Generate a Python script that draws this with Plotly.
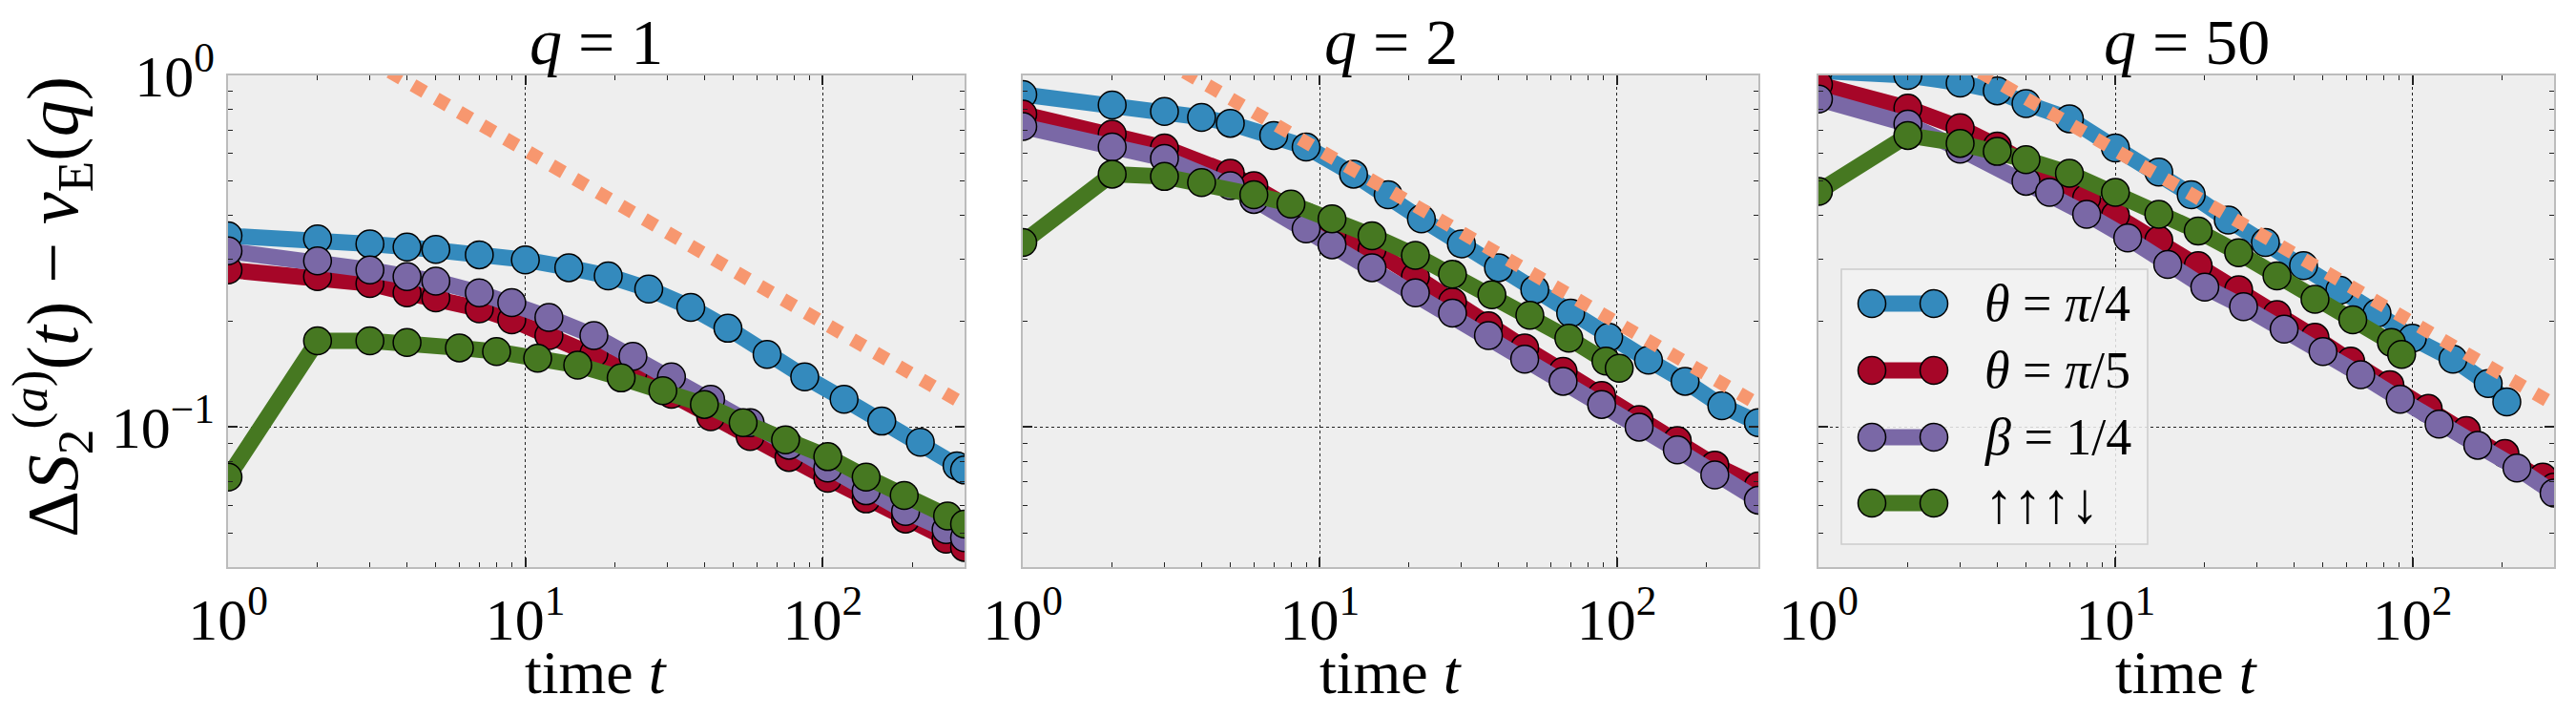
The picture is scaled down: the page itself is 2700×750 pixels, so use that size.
import numpy as np
import plotly.graph_objects as go

# ---------------- data ----------------
# panel q = 1
t_q1_pi4 = [1, 2, 3, 4, 5, 7, 10, 14, 19, 26, 36, 48, 65, 87, 118, 158, 213, 283, 300]
y_q1_pi4 = [0.350, 0.343, 0.332, 0.325, 0.320, 0.309, 0.299, 0.284, 0.269, 0.247, 0.219,
            0.191, 0.161, 0.139, 0.120, 0.104, 0.0906, 0.0776, 0.0755]
t_q1_pi5 = [1, 2, 3, 4, 5, 7, 9, 12, 17, 23, 31, 42, 57, 77, 104, 140, 190, 260, 300]
y_q1_pi5 = [0.280, 0.268, 0.256, 0.241, 0.233, 0.217, 0.202, 0.182, 0.162, 0.143, 0.124,
            0.107, 0.094, 0.082, 0.0715, 0.0625, 0.0548, 0.0480, 0.0455]
t_q1_beta = [1, 2, 3, 4, 5, 7, 9, 12, 17, 23, 31, 42, 57, 77, 104, 140, 190, 260, 300]
y_q1_beta = [0.317, 0.297, 0.280, 0.268, 0.260, 0.241, 0.226, 0.205, 0.182, 0.159, 0.139,
             0.120, 0.103, 0.0888, 0.0765, 0.0659, 0.0576, 0.0511, 0.0485]
t_q1_neel = [1, 2, 3, 4, 6, 8, 11, 15, 21, 29, 40, 54, 75, 104, 140, 188, 263, 300]
y_q1_neel = [0.0721, 0.176, 0.176, 0.174, 0.168, 0.164, 0.157, 0.150, 0.138, 0.127, 0.116,
             0.103, 0.092, 0.0824, 0.0721, 0.0639, 0.0559, 0.0530]

# panel q = 2
t_q2_pi4 = [1, 2, 3, 4, 5, 7, 9, 13, 17, 22, 30, 40, 53, 70, 94, 128, 170, 226, 300]
y_q2_pi4 = [0.883, 0.824, 0.790, 0.760, 0.731, 0.675, 0.626, 0.524, 0.458, 0.391, 0.332,
            0.284, 0.246, 0.211, 0.180, 0.155, 0.135, 0.115, 0.103]
t_q2_pi5 = [1, 2, 3, 5, 6, 9, 11, 15, 21, 28, 37, 49, 66, 89, 119, 160, 214, 300]
y_q2_pi5 = [0.776, 0.681, 0.622, 0.527, 0.486, 0.395, 0.355, 0.320, 0.268, 0.227, 0.194,
            0.168, 0.144, 0.123, 0.105, 0.0915, 0.078, 0.068]
t_q2_beta = [1, 2, 3, 5, 6, 9, 11, 15, 21, 28, 37, 49, 66, 89, 119, 160, 214, 300]
y_q2_beta = [0.716, 0.626, 0.581, 0.486, 0.444, 0.366, 0.330, 0.284, 0.241, 0.211, 0.182,
             0.156, 0.135, 0.116, 0.100, 0.0861, 0.0731, 0.062]
t_q2_neel = [1, 2, 3, 4, 6, 8, 11, 15, 21, 28, 38, 51, 69, 92, 102]
y_q2_neel = [0.335, 0.524, 0.516, 0.496, 0.458, 0.431, 0.391, 0.350, 0.308, 0.272, 0.238,
             0.208, 0.179, 0.154, 0.147]

# panel q = 50
t_q50_pi4 = [1, 2, 3, 4, 5, 7, 10, 14, 18, 24, 32, 43, 57, 76, 100, 137, 180, 208]
y_q50_pi4 = [1.03, 1.00, 0.951, 0.904, 0.832, 0.753, 0.622, 0.531, 0.458, 0.388, 0.335,
             0.288, 0.245, 0.211, 0.179, 0.156, 0.133, 0.118]
t_q50_pi5 = [1, 2, 3, 4, 8, 10, 14, 19, 26, 35, 47, 62, 84, 113, 152, 205, 275, 300]
y_q50_pi5 = [0.942, 0.807, 0.710, 0.630, 0.448, 0.400, 0.340, 0.288, 0.246, 0.209, 0.180,
             0.154, 0.132, 0.113, 0.0977, 0.0841, 0.0721, 0.0675]
t_q50_beta = [1, 2, 3, 5, 6, 8, 11, 15, 20, 27, 37, 50, 67, 91, 123, 166, 225, 300]
y_q50_beta = [0.857, 0.727, 0.617, 0.500, 0.465, 0.403, 0.345, 0.290, 0.250, 0.220, 0.190,
              0.164, 0.141, 0.120, 0.102, 0.0888, 0.0765, 0.0649]
t_q50_neel = [1, 2, 3, 4, 5, 7, 10, 14, 19, 26, 35, 47, 63, 85, 92]
y_q50_neel = [0.468, 0.675, 0.641, 0.608, 0.576, 0.527, 0.465, 0.403, 0.361, 0.313, 0.269,
              0.231, 0.202, 0.174, 0.161]

# dotted reference power law (same in every panel)
ref_t = [1, 300]
ref_y = [1.89, 0.116]

panel_titles = ["<i>q</i> = 1", "<i>q</i> = 2", "<i>q</i> = 50"]
series_names = ["<i>θ</i> = <i>π</i>/4", "<i>θ</i> = <i>π</i>/5", "<i>β</i> = 1/4", "↑↑↑↓"]
series_colors = ["#348ABD", "#A60628", "#7A68A6", "#467821"]
ref_color = "#F7976F"

panels = [
    [(t_q1_pi4, y_q1_pi4), (t_q1_pi5, y_q1_pi5), (t_q1_beta, y_q1_beta), (t_q1_neel, y_q1_neel)],
    [(t_q2_pi4, y_q2_pi4), (t_q2_pi5, y_q2_pi5), (t_q2_beta, y_q2_beta), (t_q2_neel, y_q2_neel)],
    [(t_q50_pi4, y_q50_pi4), (t_q50_pi5, y_q50_pi5), (t_q50_beta, y_q50_beta), (t_q50_neel, y_q50_neel)],
]

x_tickvals = [1, 10, 100]
x_ticktext = ["10<sup>0</sup>", "10<sup>1</sup>", "10<sup>2</sup>"]
y_tickvals = [0.1, 1]
y_ticktext = ["10<sup>−1</sup>", "10<sup>0</sup>"]
x_minor = [2, 3, 4, 5, 6, 7, 8, 9, 20, 30, 40, 50, 60, 70, 80, 90, 200, 300]
y_minor = [0.04, 0.05, 0.06, 0.07, 0.08, 0.09, 0.2, 0.3, 0.4, 0.5, 0.6, 0.7, 0.8, 0.9]

# ---------------- layout geometry ----------------
W, H = 2700, 750
FONT = "Liberation Serif"
px_x = [(239, 1011), (1072, 1843), (1906, 2677)]
y_top, y_bot = 79, 594
ydom = [1 - y_bot / H, 1 - y_top / H]

fig = go.Figure()

LW = 17
MS = 29
for p, series in enumerate(panels):
    xa = "x" if p == 0 else f"x{p+1}"
    ya = "y" if p == 0 else f"y{p+1}"
    for s, (tt, yy) in enumerate(series):
        fig.add_trace(go.Scatter(
            x=tt, y=yy, mode="lines+markers", xaxis=xa, yaxis=ya,
            name=series_names[s], showlegend=False,
            line=dict(color=series_colors[s], width=LW),
            marker=dict(size=MS, color=series_colors[s], line=dict(color="black", width=1.5)),
        ))
    fig.add_trace(go.Scatter(
        x=ref_t, y=ref_y, mode="lines", xaxis=xa, yaxis=ya, showlegend=False,
        line=dict(color=ref_color, width=14, dash="dot"),
    ))

tickfont = dict(family=FONT, size=62, color="black")
common = dict(
    type="log", ticks="inside", ticklen=10, tickwidth=1.5, tickcolor="#222",
    mirror="allticks", showline=True, linecolor="#bcbcbc", linewidth=1.5,
    showgrid=True, gridcolor="#222", griddash="dot", gridwidth=1.3,
    zeroline=False, tickfont=tickfont, automargin=False,
)
layout = {}
for p in range(3):
    sx = "" if p == 0 else str(p + 1)
    x0, x1 = px_x[p]
    layout[f"xaxis{sx}"] = dict(
        common, domain=[x0 / W, x1 / W], anchor=f"y{sx}",
        range=[0, np.log10(300)], tickmode="array", tickvals=x_tickvals, ticktext=x_ticktext,
        minor=dict(ticks="inside", ticklen=5, tickwidth=1.2, tickcolor="#222",
                   tickvals=x_minor, showgrid=False),
    )
    layout[f"yaxis{sx}"] = dict(
        common, domain=ydom, anchor=f"x{sx}",
        range=[np.log10(0.04), 0], tickmode="array", tickvals=y_tickvals, ticktext=y_ticktext,
        showticklabels=(p == 0),
        minor=dict(ticks="inside", ticklen=5, tickwidth=1.2, tickcolor="#222",
                   tickvals=y_minor, showgrid=False),
    )

annotations = []
for p in range(3):
    x0, x1 = px_x[p]
    cx = (x0 + x1) / 2 / W
    annotations.append(dict(text=panel_titles[p], x=cx, y=1 - 44 / H, xref="paper", yref="paper",
                            showarrow=False, xanchor="center", yanchor="middle",
                            font=dict(family=FONT, size=68, color="black")))
    annotations.append(dict(text="time <i>t</i>", x=cx, y=1 - 704 / H, xref="paper", yref="paper",
                            showarrow=False, xanchor="center", yanchor="middle",
                            font=dict(family=FONT, size=64, color="black")))
annotations.append(dict(
    text="Δ<i>S</i><sub>2</sub><sup>(<i>a</i>)</sup>(<i>t</i>) − <i>v</i><sub>E</sub>(<i>q</i>)",
    x=55 / W, y=1 - 322 / H, xref="paper", yref="paper", textangle=-90,
    showarrow=False, xanchor="center", yanchor="middle",
    font=dict(family=FONT, size=76, color="black")))

# ---------------- hand-drawn legend (panel q = 50) ----------------
shapes = []
lg_x0, lg_x1, lg_y0, lg_y1 = 1930, 2251, 282, 570
shapes.append(dict(type="rect", xref="paper", yref="paper",
                   x0=lg_x0 / W, x1=lg_x1 / W, y0=1 - lg_y1 / H, y1=1 - lg_y0 / H,
                   fillcolor="rgba(242,242,242,0.85)", line=dict(color="#cccccc", width=1.5),
                   layer="above"))
rows = [318, 388, 458, 527]
mx0, mx1 = 1962, 2027
r = MS / 2
for s, ry in enumerate(rows):
    shapes.append(dict(type="line", xref="paper", yref="paper",
                       x0=mx0 / W, x1=mx1 / W, y0=1 - ry / H, y1=1 - ry / H,
                       line=dict(color=series_colors[s], width=LW), layer="above"))
    for mx in (mx0, mx1):
        shapes.append(dict(type="circle", xref="paper", yref="paper",
                           x0=(mx - r) / W, x1=(mx + r) / W, y0=1 - (ry + r) / H, y1=1 - (ry - r) / H,
                           fillcolor=series_colors[s], line=dict(color="black", width=1.5),
                           layer="above"))
    annotations.append(dict(text=series_names[s], x=2078 / W, y=1 - ry / H,
                            xref="paper", yref="paper", showarrow=False,
                            xanchor="left", yanchor="middle",
                            font=dict(family=FONT, size=(60 if s == 3 else 54), color="black")))

fig.update_layout(
    width=W, height=H, margin=dict(l=0, r=0, t=0, b=0, autoexpand=False),
    paper_bgcolor="white", plot_bgcolor="#eeeeee",
    showlegend=False, annotations=annotations, shapes=shapes,
    **layout,
)

fig.write_html("out.html")
